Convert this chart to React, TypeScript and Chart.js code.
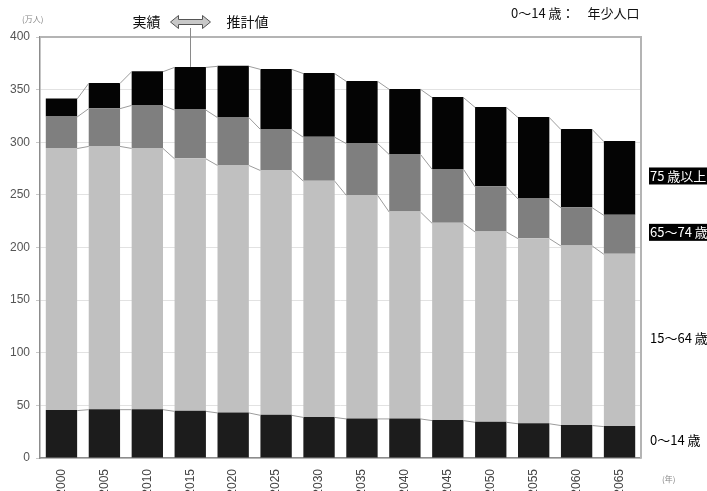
import React, { useEffect, useRef } from "react";
import { Chart, registerables } from "chart.js";

Chart.register(...registerables);

const years = ["2000", "2005", "2010", "2015", "2020", "2025", "2030", "2035", "2040", "2045", "2050", "2055", "2060", "2065"];
const age0to14 = [45.5, 46.4, 46.4, 44.8, 43.3, 41.0, 39.0, 37.6, 37.6, 36.0, 34.4, 33.0, 31.3, 30.3];
const age15to64 = [249.0, 250.1, 248.2, 239.9, 235.1, 232.6, 224.5, 212.4, 196.5, 187.4, 180.8, 175.9, 170.6, 163.7];
const age65to74 = [30.0, 35.9, 40.9, 46.3, 45.5, 39.0, 41.7, 49.2, 54.7, 51.3, 42.9, 37.7, 36.3, 37.0];
const age75plus = [17.0, 24.0, 32.0, 40.6, 48.7, 57.1, 60.5, 59.1, 61.9, 68.2, 75.5, 77.3, 74.3, 70.1];
const seriesLabels = ["0〜14 歳", "15〜64 歳", "65〜74 歳", "75 歳以上"];
const seriesColors = ["#1c1c1c", "#c0c0c0", "#7f7f7f", "#040404"];
const yMax = 400;
const yStep = 50;
const lastActualIndex = 3;
const actualLabel = "実績";
const forecastLabel = "推計値";
const unitLabel = "(万人)";
const yearUnitLabel = "(年)";
const topNote = "0〜14 歳：　年少人口";

const JP = '"Noto Sans CJK JP", "Liberation Sans", sans-serif';
const NUM = '"Liberation Sans", Arial, sans-serif';

const overlayPlugin = {
  id: "overlay",
  afterDatasetsDraw(chart: any) {
    const ctx = chart.ctx;
    const area = chart.chartArea;
    ctx.save();
    ctx.strokeStyle = "#9c9c9c";
    ctx.lineWidth = 1;
    chart.data.datasets.forEach((_ds: any, di: number) => {
      const meta = chart.getDatasetMeta(di);
      for (let i = 0; i < meta.data.length - 1; i++) {
        const a = meta.data[i].getProps(["x", "y", "width"], true);
        const b = meta.data[i + 1].getProps(["x", "y", "width"], true);
        ctx.beginPath();
        ctx.moveTo(a.x + a.width / 2, a.y + 0.5);
        ctx.lineTo(b.x - b.width / 2, b.y + 0.5);
        ctx.stroke();
      }
    });
    ctx.strokeStyle = "#b4b4b4";
    ctx.lineWidth = 2;
    ctx.beginPath();
    ctx.moveTo(area.left, area.top);
    ctx.lineTo(area.right, area.top);
    ctx.lineTo(area.right, area.bottom);
    ctx.stroke();
    ctx.restore();
  },
  afterDraw(chart: any) {
    const ctx = chart.ctx;
    const area = chart.chartArea;
    const xScale = chart.scales.x;
    ctx.save();
    const topMeta = chart.getDatasetMeta(chart.data.datasets.length - 1);
    const divX = Math.round(xScale.getPixelForValue(lastActualIndex)) + 0.5;
    const divBar = topMeta.data[lastActualIndex].getProps(["y"], true);
    ctx.strokeStyle = "#8a8a8a";
    ctx.lineWidth = 1;
    ctx.beginPath();
    ctx.moveTo(divX, 28);
    ctx.lineTo(divX, divBar.y);
    ctx.stroke();
    const ay = 22;
    const half = 20;
    const head = 8;
    const sh = 2.5;
    const hh = 6.5;
    ctx.beginPath();
    ctx.moveTo(divX - half, ay);
    ctx.lineTo(divX - half + head, ay - hh);
    ctx.lineTo(divX - half + head, ay - sh);
    ctx.lineTo(divX + half - head, ay - sh);
    ctx.lineTo(divX + half - head, ay - hh);
    ctx.lineTo(divX + half, ay);
    ctx.lineTo(divX + half - head, ay + hh);
    ctx.lineTo(divX + half - head, ay + sh);
    ctx.lineTo(divX - half + head, ay + sh);
    ctx.lineTo(divX - half + head, ay + hh);
    ctx.closePath();
    ctx.fillStyle = "#c8c8c8";
    ctx.fill();
    ctx.strokeStyle = "#555";
    ctx.lineWidth = 1;
    ctx.stroke();
    ctx.fillStyle = "#111";
    ctx.font = `14px ${JP}`;
    ctx.textBaseline = "middle";
    ctx.textAlign = "right";
    ctx.fillText(actualLabel, divX - half - 10, ay);
    ctx.textAlign = "left";
    ctx.fillText(forecastLabel, divX + half + 16, ay);
    ctx.font = `13px ${JP}`;
    ctx.fillText(topNote, 511, 13);
    ctx.fillStyle = "#888";
    ctx.font = `8px ${JP}`;
    ctx.fillText(unitLabel, 22, 19);
    ctx.fillText(yearUnitLabel, 662, 479);
    const lastIdx = chart.data.labels.length - 1;
    chart.data.datasets.forEach((ds: any, di: number) => {
      const meta = chart.getDatasetMeta(di);
      const el = meta.data[lastIdx].getProps(["y", "base"], true);
      const mid = (el.y + el.base) / 2 - 2;
      const tx = area.right + 9;
      ctx.font = `13px ${JP}`;
      ctx.textAlign = "left";
      ctx.textBaseline = "middle";
      if (di >= 2) {
        ctx.fillStyle = "#000";
        ctx.fillRect(tx - 1, mid - 8.5, 707 - tx + 1, 17);
        ctx.fillStyle = "#fff";
      } else {
        ctx.fillStyle = "#000";
      }
      ctx.fillText(ds.label, tx, mid);
    });
    ctx.restore();
  },
};

export default function App() {
  const canvasRef = useRef<HTMLCanvasElement | null>(null);

  useEffect(() => {
    const canvas = canvasRef.current;
    if (!canvas) return;
    const values = [age0to14, age15to64, age65to74, age75plus];
    const chart = new Chart(canvas, {
      type: "bar",
      data: {
        labels: years,
        datasets: values.map((v, i) => ({
          label: seriesLabels[i],
          data: v,
          backgroundColor: seriesColors[i],
          borderWidth: 0,
          categoryPercentage: 1,
          barPercentage: 0.73,
        })),
      },
      options: {
        responsive: false,
        animation: false,
        devicePixelRatio: 1,
        layout: { padding: { top: 37, right: 66, left: 0, bottom: 0 } },
        plugins: {
          legend: { display: false },
          tooltip: { enabled: false },
        },
        scales: {
          x: {
            stacked: true,
            afterFit: (scale: any) => {
              scale.height = 42;
            },
            grid: { display: false, drawTicks: false },
            border: { color: "#8c8c8c", width: 1.5 },
            ticks: {
              minRotation: 90,
              maxRotation: 90,
              padding: 11,
              color: "#444",
              font: { family: NUM, size: 12 },
            },
          },
          y: {
            stacked: true,
            min: 0,
            max: yMax,
            afterFit: (scale: any) => {
              scale.width = 40;
            },
            grid: { color: "#e2e2e2", tickColor: "#c8c8c8", tickLength: 4 },
            border: { color: "#8c8c8c", width: 1.5 },
            ticks: {
              stepSize: yStep,
              padding: 6,
              color: "#555",
              font: { family: NUM, size: 12 },
            },
          },
        },
      },
      plugins: [overlayPlugin],
    });
    return () => chart.destroy();
  }, []);

  return (
    <div style={{ position: "absolute", left: 0, top: 0, width: 707, height: 491, overflow: "hidden", background: "#fff" }}>
      <canvas ref={canvasRef} width={707} height={500} style={{ display: "block", width: 707, height: 500 }} />
    </div>
  );
}
